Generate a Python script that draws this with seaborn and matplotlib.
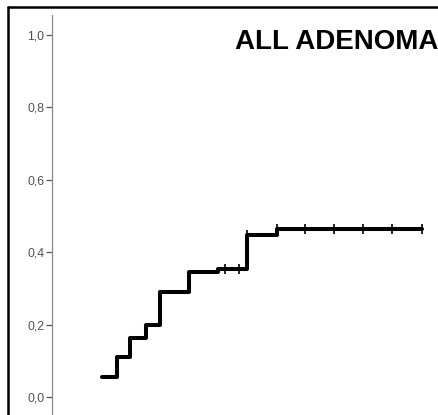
import matplotlib
matplotlib.use("Agg")
import matplotlib.pyplot as plt
from matplotlib.lines import Line2D
import seaborn as sns
import pandas as pd

# ---- data ----
step_times = [10, 13, 15.6, 18.8, 21.6, 27.4, 33.2, 39, 45, 74]
cum_incidence = [0.055, 0.11, 0.163, 0.20, 0.29, 0.345, 0.354, 0.447, 0.464, 0.464]
censor_times = [34.6, 37.4, 39, 45, 50.6, 56.4, 62.2, 68, 74]
censor_values = [0.354, 0.354, 0.447, 0.464, 0.464, 0.464, 0.464, 0.464, 0.464]
ytick_values = [0.0, 0.2, 0.4, 0.6, 0.8, 1.0]
ytick_labels = ["0,0", "0,2", "0,4", "0,6", "0,8", "1,0"]
title_text = "ALL ADENOMA"

sns.set_theme(style="white")
plt.rcParams["font.family"] = ["Liberation Sans", "DejaVu Sans"]

W, H = 439, 415
fig = plt.figure(figsize=(W / 100, H / 100), dpi=100)
fig.patch.set_facecolor("white")

# axes geometry in pixels
x0_px = 52
xmax = 80
px_per_x = 5.0
y0_px, y1_px = 397, 35
px_per_y = y0_px - y1_px
ylo, yhi = -0.06, 1.055
top_px = y0_px - yhi * px_per_y
bot_px = y0_px - ylo * px_per_y
ax = fig.add_axes([x0_px / W, 1 - bot_px / H, xmax * px_per_x / W, (bot_px - top_px) / H])
ax.set_facecolor("white")

steps = pd.DataFrame({"time": step_times, "cum": cum_incidence})
cens = pd.DataFrame({"time": censor_times, "cum": censor_values})

sns.lineplot(data=steps, x="time", y="cum", ax=ax, color="black", linewidth=2.9,
             drawstyle="steps-post", estimator=None, sort=False)
sns.scatterplot(data=cens, x="time", y="cum", ax=ax, marker="|", s=55,
                color="black", linewidth=1.2, zorder=5)

ax.set_xlim(0, xmax)
ax.set_ylim(ylo, yhi)
ax.set_yticks(ytick_values)
ax.set_yticklabels(ytick_labels)
ax.set_xticks([])
ax.set_xlabel("")
ax.set_ylabel("")
for s in ["top", "right", "bottom"]:
    ax.spines[s].set_visible(False)
ax.spines["left"].set_color("#8a8a8a")
ax.spines["left"].set_linewidth(0.9)
ax.tick_params(axis="y", left=True, length=4.5, width=0.9, color="#555555",
               labelsize=8.8, labelcolor="#505050", pad=1.0)

# title
fig.text(235 / W, 1 - 49 / H, title_text, fontsize=20, fontweight="bold",
         color="black", ha="left", va="baseline")

# outer frame (left and top edges visible)
fig.add_artist(Line2D([8 / W, 8 / W], [0, 1 - 7 / H], transform=fig.transFigure,
                      color="black", linewidth=1.8))
fig.add_artist(Line2D([8 / W, 1], [1 - 7 / H, 1 - 7 / H], transform=fig.transFigure,
                      color="black", linewidth=1.8))

fig.savefig("out.png", dpi=100, facecolor="white")
